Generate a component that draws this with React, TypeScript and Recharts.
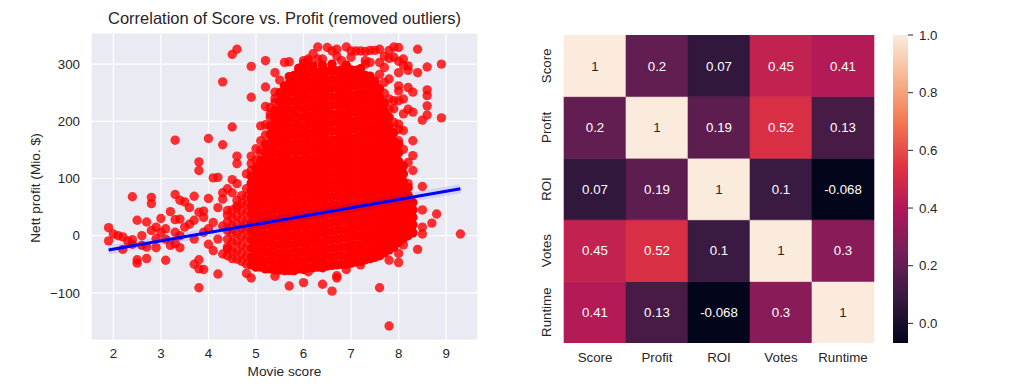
import React from 'react';
import {
  ScatterChart,
  Scatter,
  XAxis,
  YAxis,
  CartesianGrid,
  BarChart,
  Bar,
  Cell,
  LabelList,
} from 'recharts';

// ---- scatter: Movie score vs. Nett profit (Mio. $) ----
// dense core, one list of profits per score column
const coreScores = [
  4.4, 4.5, 4.6, 4.7, 4.8, 4.9, 5.0, 5.1, 5.2, 5.3, 5.4, 5.5, 5.6, 5.7, 5.8, 5.9, 6.0, 6.1, 6.2, 6.3,
  6.4, 6.5, 6.6, 6.7, 6.8, 6.9, 7.0, 7.1, 7.2, 7.3, 7.4, 7.5, 7.6, 7.7, 7.8, 7.9, 8.0, 8.1, 8.2, 8.3,
];
const coreProfits: number[][] = [
  [-35, -20, -6, 9, 24, 36],
  [-40, -27, -12, 3, 17, 31, 45],
  [-41, -26, -11, 4, 20, 35, 49, 62],
  [-45, -31, -16, -1, 13, 28, 43, 57, 70],
  [-50, -36, -21, -5, 10, 25, 40, 54, 68, 82],
  [-51, -37, -22, -7, 8, 23, 38, 52, 66, 79, 92, 104],
  [-55, -40, -25, -10, 5, 20, 35, 50, 64, 78, 91, 104, 118],
  [-55, -42, -27, -12, 3, 18, 32, 47, 61, 75, 89, 103, 117, 131],
  [-58, -44, -29, -14, 1, 16, 31, 45, 60, 74, 88, 102, 116, 130, 145, 160],
  [-58, -43, -28, -13, 2, 17, 32, 47, 61, 76, 90, 104, 118, 132, 147, 162, 177, 192],
  [-60, -46, -31, -16, -1, 14, 29, 44, 58, 73, 87, 101, 115, 129, 144, 159, 174, 189, 204, 219],
  [-60, -45, -30, -15, 0, 15, 30, 45, 60, 74, 88, 102, 116, 130, 145, 160, 175, 190, 205, 220, 235, 250],
  [-61, -47, -32, -17, -2, 13, 28, 43, 58, 72, 87, 101, 115, 129, 143, 158, 173, 188, 203, 218, 233, 248, 262],
  [-60, -45, -30, -15, 0, 15, 30, 45, 60, 75, 89, 103, 117, 131, 146, 161, 176, 191, 206, 221, 236, 251, 266, 278],
  [-61, -46, -31, -16, -1, 14, 29, 44, 59, 74, 88, 102, 116, 130, 145, 160, 175, 190, 205, 220, 235, 250, 265, 280],
  [-58, -43, -28, -13, 2, 17, 32, 47, 62, 77, 91, 105, 119, 133, 148, 163, 178, 193, 208, 223, 238, 253, 268, 283, 293],
  [-59, -44, -29, -14, 1, 16, 31, 46, 61, 76, 90, 104, 118, 132, 147, 162, 177, 192, 207, 222, 237, 252, 267, 282, 294],
  [-56, -41, -26, -11, 4, 19, 34, 49, 64, 79, 93, 107, 121, 135, 150, 165, 180, 195, 210, 225, 240, 255, 270, 285],
  [-56, -42, -27, -12, 3, 18, 33, 48, 63, 78, 92, 106, 120, 134, 149, 164, 179, 194, 209, 224, 239, 254, 269, 284, 297],
  [-55, -40, -25, -10, 5, 20, 35, 50, 65, 80, 94, 108, 122, 136, 151, 166, 181, 196, 211, 226, 241, 256, 271, 286],
  [-56, -41, -26, -11, 4, 19, 34, 49, 64, 78, 92, 106, 120, 134, 148, 163, 178, 193, 208, 223, 238, 253, 268, 283, 298],
  [-53, -38, -23, -8, 7, 22, 37, 52, 67, 82, 96, 110, 124, 138, 152, 167, 182, 197, 212, 227, 242, 257, 272, 287],
  [-52, -37, -22, -7, 8, 23, 38, 53, 68, 83, 97, 111, 125, 139, 153, 168, 183, 198, 213, 228, 243, 258, 273, 288, 300],
  [-51, -36, -21, -6, 9, 24, 39, 54, 69, 83, 97, 111, 125, 139, 153, 168, 183, 198, 213, 228, 243, 258, 273, 288],
  [-50, -35, -20, -5, 10, 25, 40, 55, 70, 85, 99, 113, 127, 141, 155, 170, 185, 200, 215, 230, 245, 260, 275, 290],
  [-50, -35, -20, -5, 10, 25, 40, 55, 69, 83, 97, 111, 125, 139, 153, 168, 183, 198, 213, 228, 243, 258, 273, 287, 298],
  [-48, -33, -18, -3, 12, 27, 42, 57, 72, 86, 100, 114, 128, 142, 156, 171, 186, 201, 216, 231, 246, 261, 276, 290],
  [-46, -31, -16, -1, 14, 29, 44, 58, 72, 86, 100, 114, 128, 142, 156, 171, 186, 201, 216, 231, 246, 261, 276, 289],
  [-45, -30, -15, 0, 15, 30, 45, 60, 74, 88, 102, 116, 130, 144, 158, 173, 188, 203, 218, 233, 248, 263, 278, 292],
  [-42, -27, -12, 3, 18, 33, 48, 62, 76, 90, 104, 118, 132, 146, 160, 175, 190, 205, 220, 235, 250, 265, 280],
  [-40, -25, -10, 5, 20, 35, 50, 64, 78, 92, 106, 120, 134, 148, 162, 177, 192, 207, 222, 237, 252, 266, 279],
  [-38, -23, -8, 7, 22, 37, 52, 66, 80, 94, 108, 122, 136, 150, 164, 179, 194, 209, 224, 239, 254, 268],
  [-35, -20, -5, 10, 25, 40, 55, 69, 83, 97, 111, 125, 139, 153, 167, 182, 197, 212, 227, 242, 257],
  [-30, -15, 0, 15, 30, 45, 60, 74, 88, 102, 116, 130, 144, 158, 172, 187, 202, 217, 232],
  [-25, -10, 5, 20, 35, 50, 64, 78, 92, 106, 120, 134, 148, 162, 177, 192, 207],
  [-20, -5, 10, 25, 40, 54, 68, 82, 96, 110, 123, 136, 150, 165, 180],
  [-12, 3, 18, 33, 47, 61, 75, 89, 103, 116, 130, 145, 160],
  [-5, 10, 25, 39, 53, 67, 80, 94, 108, 122],
  [0, 15, 29, 43, 57, 70, 84],
  [5, 19, 32, 45, 58],
];
// scattered points around the core [score, profit]
const fringePoints: [number, number][] = [
  [1.9, 14], [1.9, -9], [2.0, 3], [2.1, 0], [2.2, -2], [2.2, -24], [2.3, -9], [2.4, 68], [2.4, -7], [2.4, -15],
  [2.5, 27], [2.5, -42], [2.5, -48], [2.6, 0], [2.6, -17], [2.7, 24], [2.7, -20], [2.7, -40], [2.8, 67], [2.8, 56],
  [2.8, 9], [2.9, -5], [2.9, -21], [2.9, 15], [3.0, 30], [3.0, 6], [3.1, 12], [3.1, -43], [3.1, -6], [3.2, 42],
  [3.2, -17], [3.3, 167], [3.3, 72], [3.3, 28], [3.3, -14], [3.3, 6], [3.4, 62], [3.4, -21], [3.4, 29], [3.4, 0],
  [3.5, 59], [3.5, 15], [3.6, 49], [3.6, 20], [3.7, 69], [3.7, 27], [3.7, -50], [3.7, -6], [3.8, 129], [3.8, 114],
  [3.8, 41], [3.8, -42], [3.8, -58], [3.8, -91], [3.9, 43], [3.9, 32], [3.9, 6], [3.9, -59], [4.0, 170], [4.0, 65],
  [4.0, 12], [4.0, -15], [4.1, 101], [4.1, 23], [4.1, -26], [4.2, 102], [4.2, 49], [4.2, -6], [4.2, -67], [4.3, 269],
  [4.3, 159], [4.3, 75], [4.3, 64], [4.3, 17], [4.3, -32], [4.4, 82], [4.4, 44], [4.4, -23], [4.5, 317], [4.5, 190],
  [4.5, 98], [4.5, 75], [4.6, 326], [4.6, 139], [4.6, 126], [4.6, 91], [4.6, 52], [4.8, 108], [4.8, -66], [4.9, 296],
  [4.9, 242], [4.9, 139], [4.9, 126], [4.9, 114], [4.9, -74], [5.0, 152], [5.0, 132], [5.1, 192], [5.1, 166], [5.1, 150],
  [5.1, 143], [5.1, -47], [5.2, 306], [5.2, 260], [5.2, 226], [5.2, 194], [5.2, 176], [5.3, 224], [5.3, 213], [5.3, 207],
  [5.4, 285], [5.4, 251], [5.4, 240], [5.4, 233], [5.4, 178], [5.4, -71], [5.5, 272], [5.5, 213], [5.6, 236], [5.6, 197],
  [5.6, 303], [5.7, 304], [5.7, 260], [5.7, -88], [5.7, -61], [5.9, 290], [5.9, 277], [6.0, 301], [6.0, 306], [6.0, -82],
  [6.1, 309], [6.1, 306], [6.1, 295], [6.1, -63], [6.2, 318], [6.3, 330], [6.3, 309], [6.4, 309], [6.4, -85], [6.5, 329],
  [6.6, 323], [6.6, -97], [6.7, 326], [6.7, 314], [6.7, -70], [6.7, -74], [6.8, 306], [6.9, 330], [6.9, -59], [7.0, 312],
  [7.0, 323], [7.1, 323], [7.2, 323], [7.2, -51], [7.3, 306], [7.3, 322], [7.3, 300], [7.4, 303], [7.4, 324], [7.4, -36],
  [7.5, 324], [7.5, 271], [7.6, 326], [7.6, 303], [7.6, 282], [7.6, -91], [7.7, 314], [7.7, 294], [7.7, 268], [7.7, 249],
  [7.8, 324], [7.8, 310], [7.8, 274], [7.8, 239], [7.8, 222], [7.8, -158], [7.8, -43], [7.9, 330], [7.9, 312], [7.9, 236],
  [7.9, 222], [7.9, 198], [8.0, 329], [8.0, 305], [8.0, 285], [8.0, 262], [8.0, 253], [8.0, 236], [8.0, 195], [8.0, 186],
  [8.0, 166], [8.0, -47], [8.0, -31], [8.1, 309], [8.1, 298], [8.1, 239], [8.1, 213], [8.1, 184], [8.1, 151], [8.1, -16],
  [8.2, 297], [8.2, 289], [8.2, 259], [8.2, 221], [8.2, 128], [8.2, 91], [8.3, 251], [8.3, 216], [8.3, 166], [8.3, 140],
  [8.3, 114], [8.4, 326], [8.4, 285], [8.4, -24], [8.5, 202], [8.5, 86], [8.5, 45], [8.5, 15], [8.5, 3], [8.6, 295],
  [8.6, 255], [8.6, 245], [8.6, 227], [8.6, 211], [8.7, 22], [8.8, 38], [8.9, 300], [8.9, 206], [9.3, 3],
];
// regression line end points
const fitScores = [1.9, 9.3];
const fitProfits = [-25, 82];

const scoreTicks = [2, 3, 4, 5, 6, 7, 8, 9];
const profitTicks = [-100, 0, 100, 200, 300];

// ---- heatmap: correlation matrix ----
const heatLabels = ['Score', 'Profit', 'ROI', 'Votes', 'Runtime'];
const corrMatrix = [
  [1, 0.2, 0.07, 0.45, 0.41],
  [0.2, 1, 0.19, 0.52, 0.13],
  [0.07, 0.19, 1, 0.1, -0.068],
  [0.45, 0.52, 0.1, 1, 0.3],
  [0.41, 0.13, -0.068, 0.3, 1],
];
const colorbarTicks = [0, 0.2, 0.4, 0.6, 0.8, 1.0];

const TEXT = '#262626';
const FONT = '"Liberation Sans", Arial, sans-serif';

// seaborn "rocket" colormap
const rocketStops: [number, string][] = [
  [0, '#03051a'],
  [1 / 7, '#35193e'],
  [2 / 7, '#701f57'],
  [3 / 7, '#ad1759'],
  [4 / 7, '#e13342'],
  [5 / 7, '#f37651'],
  [6 / 7, '#f6b48f'],
  [1, '#faebdd'],
];

const hexToRgb = (h: string) => [1, 3, 5].map((i) => parseInt(h.slice(i, i + 2), 16));

function rocketRgb(t: number) {
  const c = Math.max(0, Math.min(1, t));
  for (let k = 1; k < rocketStops.length; k++) {
    const [t1, h1] = rocketStops[k];
    if (c <= t1) {
      const [t0, h0] = rocketStops[k - 1];
      const f = (c - t0) / (t1 - t0);
      const a = hexToRgb(h0);
      const b = hexToRgb(h1);
      return a.map((v, i) => Math.round(v + (b[i] - v) * f));
    }
  }
  return hexToRgb(rocketStops[rocketStops.length - 1][1]);
}

const luminance = (rgb: number[]) => {
  const [r, g, b] = rgb.map((v) => {
    const s = v / 255;
    return s <= 0.03928 ? s / 12.92 : Math.pow((s + 0.055) / 1.055, 2.4);
  });
  return 0.2126 * r + 0.7152 * g + 0.0722 * b;
};

const allValues = corrMatrix.flat();
const vMin = Math.min(...allValues);
const vMax = Math.max(...allValues);
const cellRgb = (v: number) => rocketRgb((v - vMin) / (vMax - vMin));
const cellColor = (v: number) => `rgb(${cellRgb(v).join(',')})`;

// chart tables built from the arrays above
const coreData = coreScores.flatMap((s, i) => (coreProfits[i] ?? []).map((p) => ({ score: s, profit: p })));
const fringeData = fringePoints.map(([s, p]) => ({ score: s, profit: p }));
const fitData = fitScores.map((s, i) => ({ score: s, profit: fitProfits[i] }));

const allPoints = [...coreData, ...fringeData];
const xs = allPoints.map((d) => d.score);
const ys = allPoints.map((d) => d.profit);
const pad = (lo: number, hi: number): [number, number] => [lo - (hi - lo) * 0.05, hi + (hi - lo) * 0.05];
const xDomain = pad(Math.min(...xs), Math.max(...xs));
const yDomain = pad(Math.min(...ys), Math.max(...ys));

const heatData = heatLabels.map((col, j) => {
  const row: Record<string, number | string> = { col };
  heatLabels.forEach((_, i) => {
    row[`c${i}`] = 1;
    row[`v${i}`] = corrMatrix[i][j];
  });
  return row;
});

const minus = (v: number) => (v < 0 ? `\u2212${Math.abs(v)}` : `${v}`);

// the middle of the cloud is thousands of stacked points, so it reads as opaque;
// the thinner low-score columns keep the translucent look
const CoreDot = (p: any) => (
  <circle cx={p.cx} cy={p.cy} r={4.7} fill="#ff0000" fillOpacity={p.payload?.score < 4.85 ? 0.8 : 1} />
);
const RedDot = (p: any) => <circle cx={p.cx} cy={p.cy} r={4.7} fill="#ff0000" fillOpacity={0.8} />;
const NoDot = () => <g />;

const RowTick = (p: any) => {
  const label = heatLabels[4 - Math.floor(p.payload.value)];
  return (
    <text
      x={p.x}
      y={p.y}
      dy="0.36em"
      textAnchor="middle"
      fill={TEXT}
      fontSize={13.3}
      transform={`rotate(-90, ${p.x}, ${p.y})`}
    >
      {label}
    </text>
  );
};

const CellLabel = (p: any) => {
  const x = Number(p.x);
  const y = Number(p.y);
  const w = Number(p.width);
  const h = Number(p.height);
  const v = Number(p.value);
  const fill = luminance(cellRgb(v)) > 0.408 ? TEXT : '#ffffff';
  return (
    <text x={x + w / 2} y={y + h / 2} dy="0.36em" textAnchor="middle" fill={fill} fontSize={13.3}>
      {String(v)}
    </text>
  );
};

const tickStyle = { fill: TEXT, fontSize: 13.3 };

export default function App() {
  return (
    <div
      style={{
        position: 'absolute',
        left: 0,
        top: 0,
        width: 1018,
        height: 387,
        background: '#ffffff',
        overflow: 'hidden',
        fontFamily: FONT,
        color: TEXT,
      }}
    >
      {/* scatter + regression */}
      <div style={{ position: 'absolute', left: 0, top: 0 }}>
        <ScatterChart width={500} height={387} margin={{ top: 33, right: 22, bottom: 0, left: 0 }}>
          <CartesianGrid fill="#eaeaf2" stroke="#ffffff" strokeWidth={1.2} />
          <XAxis
            type="number"
            dataKey="score"
            domain={xDomain}
            ticks={scoreTicks}
            allowDataOverflow
            height={47}
            tickLine={false}
            axisLine={false}
            tickSize={0}
            tickMargin={9}
            tick={tickStyle}
          />
          <YAxis
            type="number"
            dataKey="profit"
            domain={yDomain}
            ticks={profitTicks}
            allowDataOverflow
            width={91}
            tickLine={false}
            axisLine={false}
            tickSize={0}
            tickMargin={11}
            tick={tickStyle}
            tickFormatter={minus}
          />
          <Scatter data={coreData} shape={CoreDot} isAnimationActive={false} />
          <Scatter data={fringeData} shape={RedDot} isAnimationActive={false} />
          <Scatter
            data={fitData}
            shape={NoDot}
            line={{ stroke: '#0000ff', strokeWidth: 9, strokeOpacity: 0.1 }}
            isAnimationActive={false}
          />
          <Scatter
            data={fitData}
            shape={NoDot}
            line={{ stroke: '#0000ff', strokeWidth: 3 }}
            isAnimationActive={false}
          />
        </ScatterChart>
      </div>
      <div
        style={{
          position: 'absolute',
          left: 91,
          width: 387,
          top: 8,
          lineHeight: '20px',
          fontSize: 16.5,
          textAlign: 'center',
          whiteSpace: 'nowrap',
        }}
      >
        Correlation of Score vs. Profit (removed outliers)
      </div>
      <div
        style={{
          position: 'absolute',
          left: 284.5,
          top: 372,
          fontSize: 13.7,
          lineHeight: 1,
          whiteSpace: 'nowrap',
          transform: 'translate(-50%, -50%)',
        }}
      >
        Movie score
      </div>
      <div
        style={{
          position: 'absolute',
          left: 36,
          top: 188,
          fontSize: 13.7,
          lineHeight: 1,
          whiteSpace: 'nowrap',
          transform: 'translate(-50%, -50%) rotate(-90deg)',
        }}
      >
        Nett profit (Mio. $)
      </div>

      {/* heatmap */}
      <div style={{ position: 'absolute', left: 500, top: 0 }}>
        <BarChart
          width={380}
          height={387}
          data={heatData}
          margin={{ top: 35, right: 6, bottom: 0, left: 0 }}
          barCategoryGap={0}
          barGap={0}
        >
          <XAxis
            dataKey="col"
            height={44}
            interval={0}
            tickLine={false}
            axisLine={false}
            tickSize={0}
            tickMargin={10}
            tick={tickStyle}
          />
          <YAxis
            type="number"
            domain={[0, 5]}
            ticks={[0.5, 1.5, 2.5, 3.5, 4.5]}
            allowDataOverflow
            interval={0}
            width={64}
            tickLine={false}
            axisLine={false}
            tickSize={0}
            tickMargin={17.3}
            tick={RowTick}
          />
          {[4, 3, 2, 1, 0].map((i) => (
            <Bar key={i} dataKey={`c${i}`} stackId="heat" isAnimationActive={false}>
              {heatData.map((_, j) => (
                <Cell
                  key={j}
                  fill={cellColor(corrMatrix[i][j])}
                  stroke={cellColor(corrMatrix[i][j])}
                  strokeWidth={0.6}
                />
              ))}
              <LabelList dataKey={`v${i}`} content={CellLabel} />
            </Bar>
          ))}
        </BarChart>
      </div>

      {/* colorbar */}
      <div style={{ position: 'absolute', left: 880, top: 0 }}>
        <BarChart
          width={138}
          height={387}
          data={[{ k: 'cb', span: [vMin, vMax] }]}
          margin={{ top: 35, right: 70, bottom: 44, left: 13 }}
          barCategoryGap={0}
        >
          <defs>
            <linearGradient id="rocketGrad" x1="0" y1="1" x2="0" y2="0">
              {rocketStops.map(([t, c]) => (
                <stop key={t} offset={`${t * 100}%`} stopColor={c} />
              ))}
            </linearGradient>
          </defs>
          <XAxis dataKey="k" hide />
          <YAxis
            orientation="right"
            type="number"
            domain={[vMin, vMax]}
            ticks={colorbarTicks}
            allowDataOverflow
            width={40}
            axisLine={false}
            tickSize={5}
            tickMargin={6}
            tickLine={{ stroke: TEXT }}
            tick={tickStyle}
            tickFormatter={(v: number) => v.toFixed(1)}
          />
          <Bar dataKey="span" fill="url(#rocketGrad)" isAnimationActive={false} />
        </BarChart>
      </div>
    </div>
  );
}
